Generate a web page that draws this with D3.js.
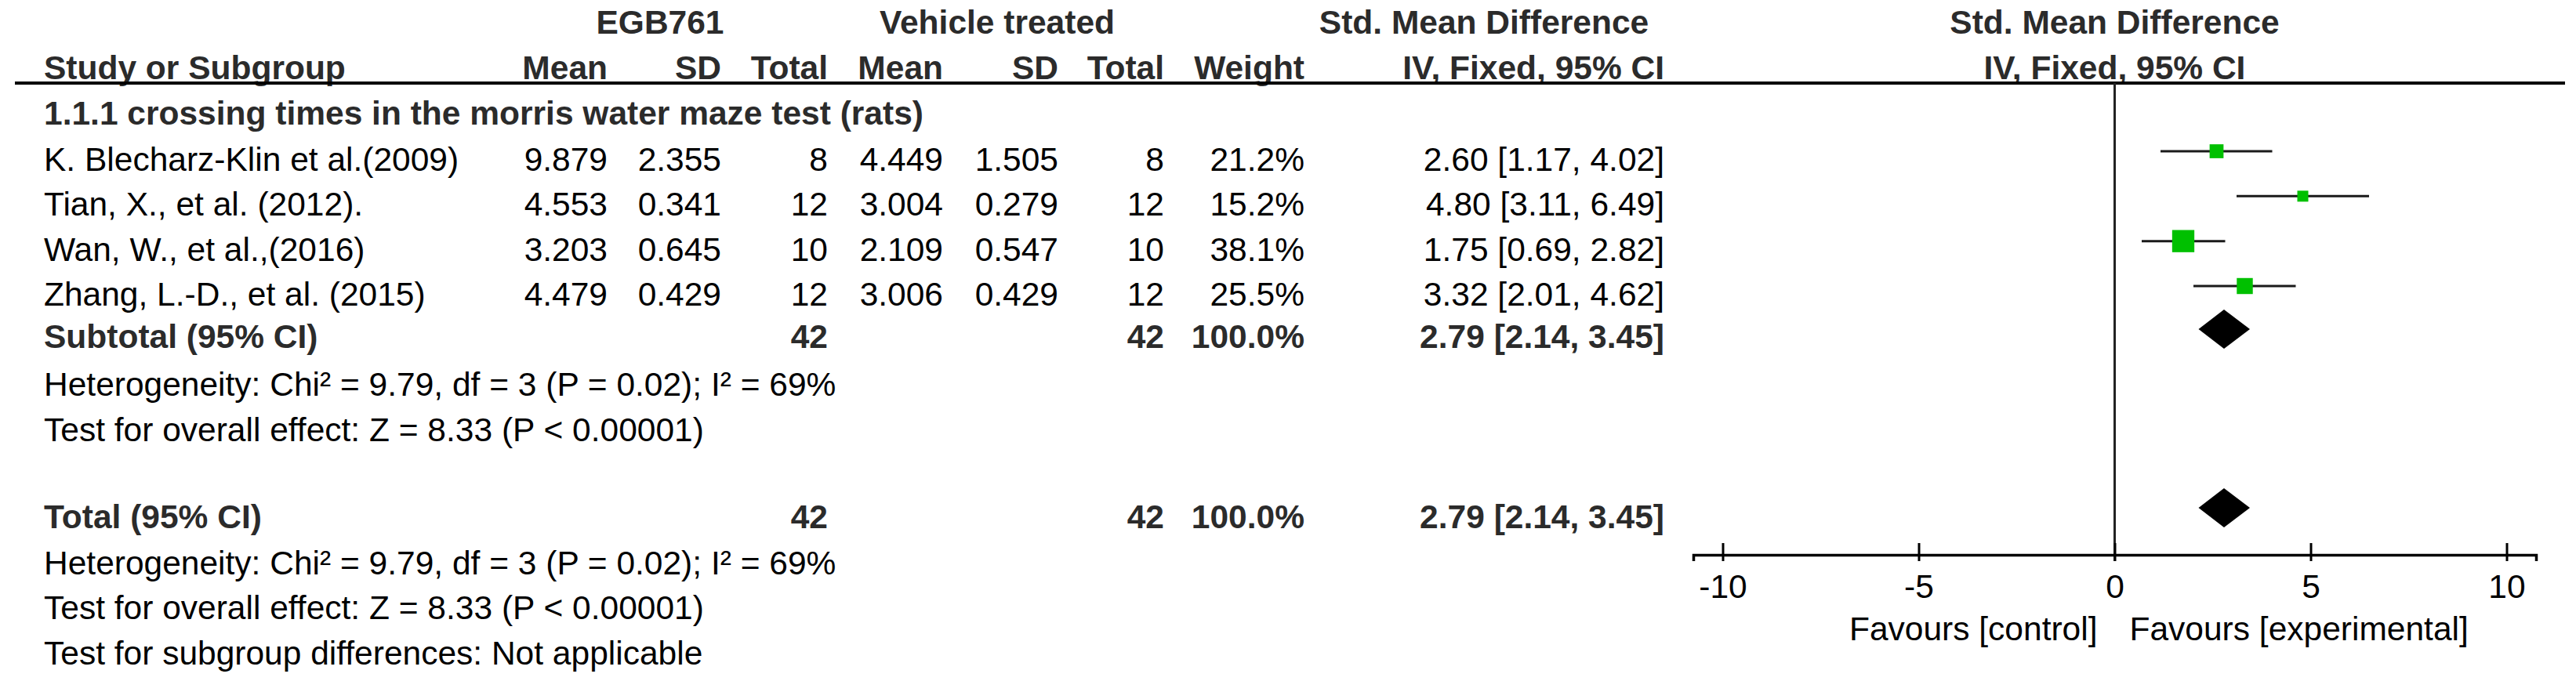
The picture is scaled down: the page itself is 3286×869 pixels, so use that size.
<!DOCTYPE html>
<html>
<head>
<meta charset="utf-8">
<script src="https://cdn.jsdelivr.net/npm/d3@7"></script>
<style>
  body { margin: 0; background: #fff; }
  text { font-family: "Liberation Sans", Arial, sans-serif; font-size: 42.5px; fill: #000; }
  .bold { font-weight: bold; fill: #2b2b2b; }
</style>
</head>
<body>
<svg id="forest"></svg>
<script>
// study data
var studies = ["K. Blecharz-Klin et al.(2009)", "Tian, X., et al. (2012).", "Wan, W., et al.,(2016)", "Zhang, L.-D., et al. (2015)"];
var egbMean = [9.879, 4.553, 3.203, 4.479];
var egbSD = [2.355, 0.341, 0.645, 0.429];
var egbTotal = [8, 12, 10, 12];
var vehMean = [4.449, 3.004, 2.109, 3.006];
var vehSD = [1.505, 0.279, 0.547, 0.429];
var vehTotal = [8, 12, 10, 12];
var weights = [21.2, 15.2, 38.1, 25.5];
var smd = [2.60, 4.80, 1.75, 3.32];
var ciLow = [1.17, 3.11, 0.69, 2.01];
var ciHigh = [4.02, 6.49, 2.82, 4.62];
var pooled = [2.79, 2.14, 3.45];   // estimate, low, high
var pooledTotals = [42, 42];
var xTicks = [-10, -5, 0, 5, 10];
var hetText = "Heterogeneity: Chi\u00b2 = 9.79, df = 3 (P = 0.02); I\u00b2 = 69%";
var effectText = "Test for overall effect: Z = 8.33 (P < 0.00001)";
var subgroupText = "Test for subgroup differences: Not applicable";

var width = 3286, height = 869;

var svg = d3.select("#forest")
  .attr("width", width)
  .attr("height", height);

svg.append("rect").attr("width", width).attr("height", height).attr("fill", "#fff");

var rows = studies.map(function(s, i) {
  return { name: s, m1: egbMean[i], sd1: egbSD[i], n1: egbTotal[i], m2: vehMean[i], sd2: vehSD[i], n2: vehTotal[i],
           w: weights[i], est: smd[i], lo: ciLow[i], hi: ciHigh[i] };
});

var y = d3.scalePoint().domain(studies).range([218, 390]);
var x = d3.scaleLinear().domain([-10.75, 10.75]).range([2160, 3235]);
var boxSize = d3.scaleLinear().domain([0, 40]).range([4.5, 29.5]);

// column right edges
var col = { name: 56, m1: 775, sd1: 920, n1: 1056, m2: 1203, sd2: 1350, n2: 1485, w: 1664, ci: 2123 };

function txt(xp, yp, s, anchor, bold) {
  return svg.append("text")
    .attr("x", xp).attr("y", yp)
    .attr("text-anchor", anchor || "start")
    .attr("class", bold ? "bold" : null)
    .text(s);
}

// headers
txt(842, 43, "EGB761", "middle", true);
txt(1272, 43, "Vehicle treated", "middle", true);
txt(1893, 43, "Std. Mean Difference", "middle", true);
txt(x(0), 43, "Std. Mean Difference", "middle", true);
txt(col.name, 101, "Study or Subgroup", "start", true);
txt(col.m1, 101, "Mean", "end", true);
txt(col.sd1, 101, "SD", "end", true);
txt(col.n1, 101, "Total", "end", true);
txt(col.m2, 101, "Mean", "end", true);
txt(col.sd2, 101, "SD", "end", true);
txt(col.n2, 101, "Total", "end", true);
txt(col.w, 101, "Weight", "end", true);
txt(col.ci, 101, "IV, Fixed, 95% CI", "end", true);
txt(x(0), 101, "IV, Fixed, 95% CI", "middle", true);

svg.append("line")
  .attr("x1", 19).attr("x2", 3272)
  .attr("y1", 106).attr("y2", 106)
  .attr("stroke", "#000").attr("stroke-width", 4);

txt(col.name, 159, "1.1.1 crossing times in the morris water maze test (rats)", "start", true);

// study rows
var f3 = d3.format(".3f"), f2 = d3.format(".2f"), f1 = d3.format(".1f");
var rowG = svg.selectAll(".row")
  .data(rows)
  .enter().append("g")
  .attr("class", "row");

function cell(key, fmt, anchor) {
  rowG.append("text")
    .attr("x", col[key])
    .attr("y", function(d) { return y(d.name); })
    .attr("text-anchor", anchor)
    .text(function(d) { return fmt(d); });
}
cell("name", function(d) { return d.name; }, "start");
cell("m1", function(d) { return f3(d.m1); }, "end");
cell("sd1", function(d) { return f3(d.sd1); }, "end");
cell("n1", function(d) { return d.n1; }, "end");
cell("m2", function(d) { return f3(d.m2); }, "end");
cell("sd2", function(d) { return f3(d.sd2); }, "end");
cell("n2", function(d) { return d.n2; }, "end");
cell("w", function(d) { return f1(d.w) + "%"; }, "end");
cell("ci", function(d) { return f2(d.est) + " [" + f2(d.lo) + ", " + f2(d.hi) + "]"; }, "end");

// subtotal / total rows
function pooledRow(label, yp) {
  txt(col.name, yp, label, "start", true);
  txt(col.n1, yp, pooledTotals[0], "end", true);
  txt(col.n2, yp, pooledTotals[1], "end", true);
  txt(col.w, yp, f1(d3.sum(weights)) + "%", "end", true);
  txt(col.ci, yp, f2(pooled[0]) + " [" + f2(pooled[1]) + ", " + f2(pooled[2]) + "]", "end", true);
}
pooledRow("Subtotal (95% CI)", 444);
txt(col.name, 505, hetText);
txt(col.name, 563, effectText);
pooledRow("Total (95% CI)", 674);
txt(col.name, 733, hetText);
txt(col.name, 790, effectText);
txt(col.name, 848, subgroupText);

// zero line
svg.append("line")
  .attr("x1", x(0)).attr("x2", x(0))
  .attr("y1", 106).attr("y2", 716)
  .attr("stroke", "#222").attr("stroke-width", 3);

// CI whiskers and weight boxes
rowG.append("line")
  .attr("x1", function(d) { return x(d.lo); })
  .attr("x2", function(d) { return x(d.hi); })
  .attr("y1", function(d) { return y(d.name) - 25; })
  .attr("y2", function(d) { return y(d.name) - 25; })
  .attr("stroke", "#1a1a1a").attr("stroke-width", 3);

rowG.append("rect")
  .attr("x", function(d) { return x(d.est) - boxSize(d.w) / 2; })
  .attr("y", function(d) { return y(d.name) - 25 - boxSize(d.w) / 2; })
  .attr("width", function(d) { return boxSize(d.w); })
  .attr("height", function(d) { return boxSize(d.w); })
  .attr("fill", "#00c000");

// pooled diamonds
[420, 648].forEach(function(cy) {
  svg.append("path")
    .attr("d", "M" + x(pooled[1]) + "," + cy +
               "L" + x(pooled[0]) + "," + (cy - 25) +
               "L" + x(pooled[2]) + "," + cy +
               "L" + x(pooled[0]) + "," + (cy + 25) + "Z")
    .attr("fill", "#000");
});

// x axis
var axis = svg.append("g")
  .attr("transform", "translate(0,708)")
  .call(d3.axisBottom(x).tickValues(xTicks).tickSizeOuter(0).tickSize(8));

axis.select(".domain").attr("stroke", "#000").attr("stroke-width", 3.5);
axis.selectAll(".tick line").attr("y1", -15).attr("y2", 8).attr("stroke", "#000").attr("stroke-width", 3);
axis.selectAll(".tick text")
  .attr("y", 55).attr("dy", null)
  .style("font-family", "\"Liberation Sans\", Arial, sans-serif")
  .style("font-size", "42.5px")
  .attr("fill", "#000")
  .text(function(d) { return d; });

txt(x(0) - 22, 817, "Favours [control]", "end");
txt(x(0) + 19, 817, "Favours [experimental]", "start");
</script>
</body>
</html>
